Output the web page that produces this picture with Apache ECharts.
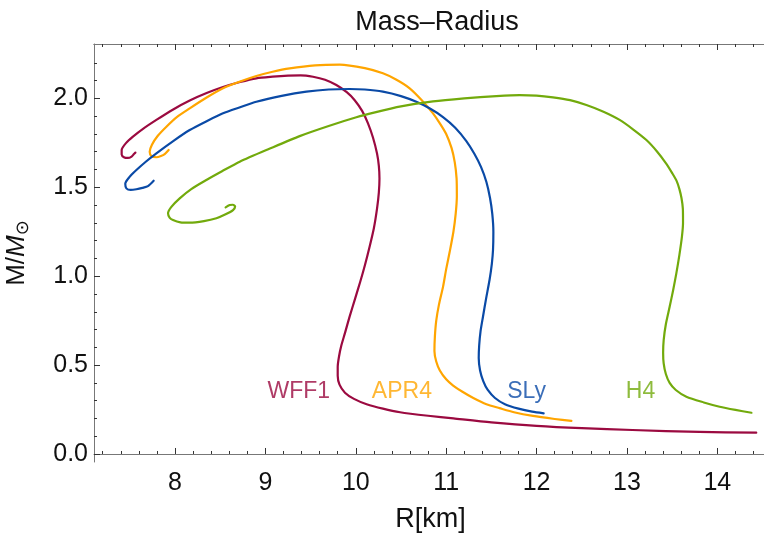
<!DOCTYPE html>
<html>
<head>
<meta charset="utf-8">
<script src="https://cdn.jsdelivr.net/npm/echarts@6/dist/echarts.min.js"></script>
<style>
  html, body { margin: 0; padding: 0; background: #fff; }
  #main { width: 764px; height: 535px; }
</style>
</head>
<body>
<div id="main"></div>
<script>
// mass-radius curves, [R km, M/Msun], from low mass end to the spiral
var wff1 = [[14.43,0.12],[13.8,0.124],[13.06,0.135],[12.5,0.145],[12.0,0.158],[11.5,0.178],[11.08,0.2],[10.8,0.215],[10.49,0.235],[10.3,0.255],[10.12,0.28],[9.98,0.31],[9.88,0.345],[9.82,0.39],[9.8,0.44],[9.8,0.49],[9.815,0.55],[9.84,0.61],[9.88,0.68],[9.93,0.77],[9.99,0.87],[10.05,0.97],[10.1,1.06],[10.15,1.16],[10.2,1.27],[10.235,1.38],[10.255,1.47],[10.262,1.55],[10.255,1.62],[10.235,1.69],[10.19,1.78],[10.135,1.86],[10.07,1.93],[9.988,1.99],[9.9,2.035],[9.785,2.075],[9.66,2.105],[9.527,2.122],[9.39,2.13],[9.25,2.128],[9.08,2.122],[8.9,2.113],[8.72,2.092],[8.531,2.064],[8.35,2.03],[8.163,1.988],[7.98,1.938],[7.794,1.879],[7.65,1.83],[7.535,1.785],[7.46,1.75],[7.41,1.71],[7.41,1.685],[7.44,1.668],[7.48,1.665],[7.52,1.673],[7.546,1.687],[7.562,1.695]];
var apr4 = [[12.385,0.186],[12.2,0.197],[11.96,0.214],[11.75,0.235],[11.59,0.258],[11.445,0.28],[11.3,0.315],[11.18,0.35],[11.077,0.385],[11.0,0.42],[10.93,0.47],[10.89,0.52],[10.87,0.58],[10.875,0.66],[10.89,0.75],[10.92,0.84],[10.965,0.94],[11.0,1.04],[11.04,1.14],[11.08,1.25],[11.105,1.35],[11.118,1.45],[11.115,1.55],[11.095,1.64],[11.06,1.72],[11.0,1.8],[10.93,1.86],[10.854,1.916],[10.73,1.99],[10.596,2.057],[10.45,2.105],[10.3,2.141],[10.1,2.17],[9.822,2.19],[9.55,2.186],[9.269,2.169],[9.08,2.15],[8.9,2.126],[8.72,2.095],[8.531,2.057],[8.35,2.005],[8.163,1.944],[8.02,1.895],[7.905,1.841],[7.81,1.79],[7.745,1.74],[7.72,1.7],[7.74,1.675],[7.794,1.669],[7.845,1.676],[7.886,1.687],[7.93,1.71]];
var sly = [[12.078,0.229],[11.95,0.238],[11.8,0.255],[11.65,0.28],[11.54,0.315],[11.46,0.36],[11.41,0.41],[11.375,0.47],[11.36,0.54],[11.365,0.61],[11.38,0.69],[11.407,0.772],[11.44,0.87],[11.48,0.98],[11.505,1.07],[11.518,1.147],[11.522,1.25],[11.51,1.35],[11.485,1.44],[11.445,1.53],[11.385,1.615],[11.31,1.69],[11.223,1.76],[11.1,1.835],[10.965,1.895],[10.82,1.943],[10.67,1.981],[10.5,2.013],[10.3,2.038],[10.1,2.05],[9.93,2.053],[9.7,2.05],[9.454,2.038],[9.18,2.014],[8.9,1.981],[8.72,1.95],[8.531,1.916],[8.35,1.872],[8.163,1.822],[7.98,1.76],[7.794,1.691],[7.68,1.645],[7.573,1.597],[7.5,1.56],[7.45,1.52],[7.462,1.494],[7.51,1.485],[7.573,1.489],[7.64,1.497],[7.701,1.507],[7.764,1.537]];
var h4 = [[14.377,0.232],[14.2,0.248],[14.025,0.266],[13.85,0.29],[13.657,0.322],[13.54,0.36],[13.472,0.4],[13.43,0.45],[13.406,0.51],[13.4,0.57],[13.406,0.641],[13.43,0.73],[13.472,0.828],[13.51,0.92],[13.546,1.016],[13.58,1.12],[13.608,1.222],[13.62,1.3],[13.618,1.38],[13.603,1.44],[13.58,1.49],[13.55,1.535],[13.5,1.58],[13.436,1.632],[13.33,1.703],[13.215,1.766],[13.07,1.825],[12.919,1.879],[12.74,1.925],[12.551,1.963],[12.37,1.99],[12.181,2.006],[12.0,2.016],[11.813,2.019],[11.555,2.013],[11.2,2.0],[10.854,1.983],[10.5,1.955],[10.2,1.92],[10.006,1.894],[9.7,1.845],[9.379,1.788],[9.05,1.718],[8.716,1.644],[8.52,1.59],[8.347,1.541],[8.18,1.49],[8.052,1.438],[7.96,1.39],[7.923,1.354],[7.94,1.33],[7.978,1.316],[8.06,1.303],[8.163,1.301],[8.32,1.31],[8.458,1.326],[8.56,1.348],[8.642,1.372],[8.665,1.392],[8.64,1.402],[8.605,1.4],[8.56,1.387]];

var names = ['WFF1', 'APR4', 'SLy', 'H4'];
var curves = [wff1, apr4, sly, h4];
// where the curve names sit, [R, M]
var labelPos = [[9.37,0.35],[10.51,0.35],[11.89,0.35],[13.15,0.35]];
var colors = ['#9b0a40', '#ffa500', '#0a4aa6', '#72aa0c'];

var xMajor = [8, 9, 10, 11, 12, 13, 14];
var xMinor = [7.2,7.4,7.6,7.8,8.2,8.4,8.6,8.8,9.2,9.4,9.6,9.8,10.2,10.4,10.6,10.8,11.2,11.4,11.6,11.8,12.2,12.4,12.6,12.8,13.2,13.4,13.6,13.8,14.2,14.4];
var yMajor = [0, 0.5, 1.0, 1.5, 2.0];
var yMinor = [0.1,0.2,0.3,0.4,0.6,0.7,0.8,0.9,1.1,1.2,1.3,1.4,1.6,1.7,1.8,1.9,2.1,2.2];

var font = 'Liberation Sans, Arial, sans-serif';
var xMin = 7.104, xMax = 14.549, yMin = -0.045, yMax = 2.306;

function xAx(pos, ticks, len, main) {
    return {
        type: 'value', position: pos, min: xMin, max: xMax,
        name: main ? 'R[km]' : '', nameLocation: 'middle', nameGap: 44,
        nameTextStyle: { fontFamily: font, fontSize: 27, color: '#111' },
        axisLine: { show: main || pos === 'top', lineStyle: { color: '#777', width: 1 } },
        axisTick: { show: true, inside: true, length: len, customValues: ticks, lineStyle: { color: '#333' } },
        axisLabel: { show: main && pos === 'bottom', customValues: ticks, margin: 9,
            fontFamily: font, fontSize: 25, color: '#111' },
        splitLine: { show: false }
    };
}
function yAx(ticks, len, main) {
    return {
        type: 'value', position: 'left', min: yMin, max: yMax,
        name: main ? '{a|M/}{b|M}{c|⊙}' : '', nameLocation: 'middle', nameGap: 62, nameRotate: 90,
        nameTextStyle: { fontFamily: font, fontSize: 26, color: '#111',
            rich: {
                a: { fontFamily: font, fontSize: 26, color: '#111' },
                b: { fontFamily: font, fontSize: 26, fontStyle: 'italic', color: '#111' },
                c: { fontFamily: 'DejaVu Sans', fontSize: 18, color: '#111', padding: [12, 0, 0, 0] }
            } },
        axisLine: { show: main, lineStyle: { color: '#777', width: 1 } },
        axisTick: { show: true, inside: true, length: len, customValues: ticks, lineStyle: { color: '#333' } },
        axisLabel: { show: main, customValues: ticks, margin: 6, fontFamily: font, fontSize: 25, color: '#111',
            formatter: function (v) { return v.toFixed(1); } },
        splitLine: { show: false }
    };
}

var series = curves.map(function (c, i) {
    return {
        name: names[i], type: 'line', data: c, smooth: 0.25, showSymbol: false,
        lineStyle: { color: colors[i], width: 2.2, join: 'round', cap: 'round' },
        xAxisIndex: 0, yAxisIndex: 0, z: 3
    };
});
series.push({
    type: 'scatter', symbolSize: 0, xAxisIndex: 0, yAxisIndex: 0, silent: true,
    data: labelPos.map(function (p, i) {
        return { value: p, name: names[i],
            label: { show: true, position: 'inside', formatter: '{b}', color: colors[i],
                fontFamily: font, fontSize: 23 } };
    })
});

var myChart = echarts.init(document.getElementById('main'));
myChart.setOption({
    animation: false,
    title: {
        text: 'Mass\u2013Radius', left: 432, top: 4, textAlign: 'center',
        textStyle: { fontFamily: font, fontSize: 27, fontWeight: 'normal', color: '#111' }
    },
    grid: { left: 94, top: 44, right: -3, bottom: 73, outerBoundsMode: 'none' },
    xAxis: [
        xAx('bottom', xMajor, 6, true),
        xAx('bottom', xMinor, 3, false),
        xAx('top', xMajor, 6, false),
        xAx('top', xMinor, 3, false)
    ],
    yAxis: [
        yAx(yMajor, 6, true),
        yAx(yMinor, 3, false)
    ],
    series: series
});
</script>
</body>
</html>
